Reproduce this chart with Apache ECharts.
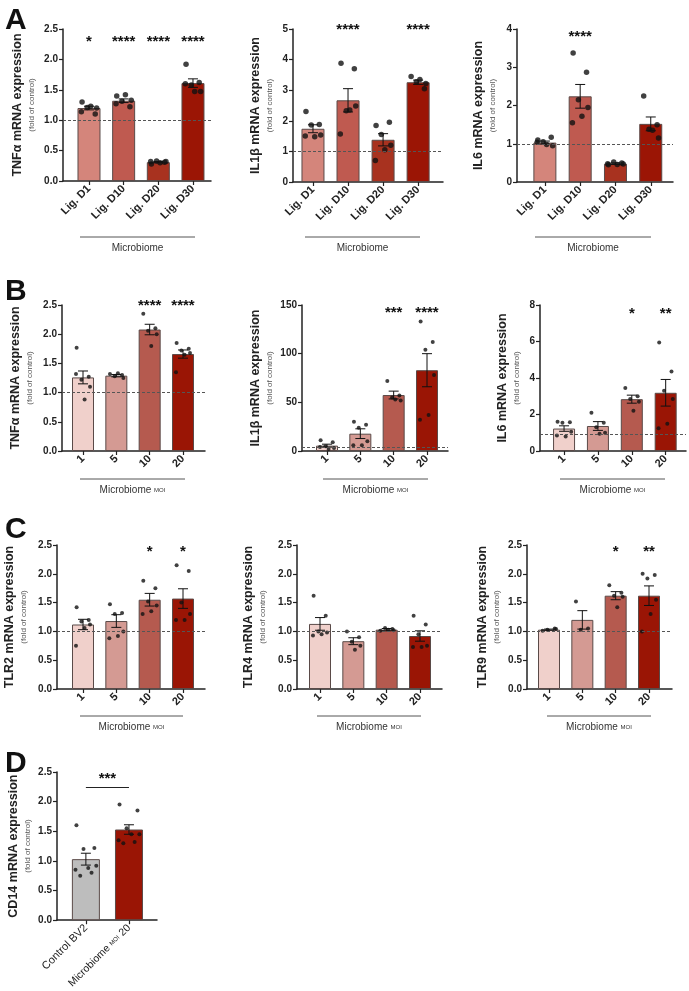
<!DOCTYPE html>
<html>
<head>
<meta charset="utf-8">
<script src="https://cdn.jsdelivr.net/npm/echarts@6/dist/echarts.min.js"></script>
<style>
html, body { margin: 0; padding: 0; background: #fff; }
#chart { width: 689px; height: 991px; }
</style>
</head>
<body>
<div id="chart"></div>
<script>
// categories
const ligDays = ['Lig. D1', 'Lig. D10', 'Lig. D20', 'Lig. D30'];
const moiLevels = ['1', '5', '10', '20'];
const cd14Groups = ['Control BV2', 'Microbiome MOI 20'];

// A: ligature days
const tnfLigMean = [1.20, 1.32, 0.31, 1.61];
const tnfLigSem = [0.03, 0.03, 0.01, 0.07];
const tnfLigPts = [[1.30, 1.10, 1.21, 1.20, 1.23, 1.14], [1.40, 1.22, 1.31, 1.33, 1.42, 1.27], [0.28, 0.31, 0.33, 0.32, 0.30, 0.32], [1.92, 1.62, 1.58, 1.47, 1.47, 1.60]];
const tnfLigStars = ['*', '****', '****', '****'];

const il1LigMean = [1.74, 2.67, 1.38, 3.26];
const il1LigSem = [0.13, 0.38, 0.20, 0.07];
const il1LigPts = [[2.30, 1.88, 1.86, 1.54, 1.48, 1.50], [3.88, 3.70, 2.33, 2.48, 2.35, 1.57], [1.85, 1.95, 1.55, 1.20, 1.05, 0.70], [3.45, 3.05, 3.28, 3.22, 3.35]];
const il1LigStars = ['', '****', '', '****'];

const il6LigMean = [1.03, 2.24, 0.48, 1.52];
const il6LigSem = [0.04, 0.31, 0.02, 0.18];
const il6LigPts = [[1.10, 1.17, 1.05, 0.95, 0.98, 1.04], [3.37, 2.87, 2.15, 1.95, 1.72, 1.55], [0.45, 0.50, 0.52, 0.47, 0.46, 0.48], [2.25, 1.50, 1.38, 1.15, 1.35]];
const il6LigStars = ['', '****', '', ''];

// B: MOI
const tnfMoiMean = [1.26, 1.29, 2.08, 1.66];
const tnfMoiSem = [0.11, 0.02, 0.09, 0.07];
const tnfMoiPts = [[1.77, 1.27, 1.22, 1.10, 0.88, 1.32], [1.32, 1.30, 1.28, 1.25, 1.33], [2.35, 2.10, 2.06, 2.00, 1.80], [1.85, 1.75, 1.72, 1.68, 1.65, 1.35]];
const tnfMoiStars = ['', '', '****', '****'];

const il1MoiMean = [5.5, 17.8, 57.5, 83];
const il1MoiSem = [1.5, 5, 4, 17];
const il1MoiPts = [[11, 9, 5, 3, 2, 4], [30, 27, 24, 10, 6, 6], [72, 57, 55, 52, 53], [133, 112, 104, 78, 37, 32]];
const il1MoiStars = ['', '', '***', '****'];

const il6MoiMean = [1.23, 1.37, 2.84, 3.19];
const il6MoiSem = [0.15, 0.24, 0.22, 0.73];
const il6MoiPts = [[1.60, 1.58, 1.55, 1.05, 0.80, 0.85], [2.10, 1.55, 1.30, 1.00, 0.95], [3.45, 3.00, 2.85, 2.70, 2.20], [5.95, 4.35, 3.30, 2.85, 1.50, 1.25]];
const il6MoiStars = ['', '', '*', '**'];

// C: TLRs
const tlr2Mean = [1.12, 1.18, 1.55, 1.57];
const tlr2Sem = [0.09, 0.11, 0.11, 0.17];
const tlr2Pts = [[1.42, 1.20, 1.17, 1.12, 1.06, 0.75], [1.47, 1.32, 1.30, 1.00, 0.92, 0.88], [1.88, 1.75, 1.52, 1.45, 1.35, 1.30], [2.15, 2.05, 1.50, 1.30, 1.20, 1.20]];
const tlr2Stars = ['', '', '*', '*'];

const tlr4Mean = [1.13, 0.83, 1.03, 0.92];
const tlr4Sem = [0.11, 0.06, 0.02, 0.09];
const tlr4Pts = [[1.62, 1.27, 1.00, 0.98, 0.95, 0.93], [1.00, 0.90, 0.82, 0.75, 0.68], [1.01, 1.04, 1.06, 1.02, 1.03], [1.27, 1.12, 0.95, 0.75, 0.73, 0.73]];
const tlr4Stars = ['', '', '', ''];

const tlr9Mean = [1.03, 1.20, 1.62, 1.62];
const tlr9Sem = [0.01, 0.16, 0.07, 0.17];
const tlr9Pts = [[1.01, 1.05, 1.03, 1.04], [1.52, 1.05, 1.03], [1.80, 1.67, 1.62, 1.60, 1.42], [2.00, 1.98, 1.92, 1.55, 1.30, 1.00]];
const tlr9Stars = ['', '', '*', '**'];

// D: CD14
const cd14Mean = [1.03, 1.53];
const cd14Sem = [0.10, 0.08];
const cd14Pts = [[1.60, 1.22, 1.20, 0.92, 0.88, 0.85, 0.80, 0.75], [1.95, 1.85, 1.55, 1.45, 1.45, 1.35, 1.32, 1.30]];
const cd14Sig = '***';

const ligColors = ['#d4857b', '#bf5a50', '#a8321f', '#9b1505'];
const moiColors = ['#f0d0cb', '#d49a93', '#b55a4f', '#9a1505'];
const cd14Colors = ['#bdbdbd', '#9a1505'];

const FONT = 'Liberation Sans, Arial, sans-serif';
const jitter = [-0.2, 0.18, -0.05, 0.22, 0.05, -0.22, 0.12, -0.12];

const panels = [
  { title: 'TNFα', cats: ligDays, mean: tnfLigMean, sem: tnfLigSem, pts: tnfLigPts, stars: tnfLigStars, starY: 2.35, colors: ligColors,
    y: [0, 2.5, 0.5, 1], ref: 1, grid: { left: 63, top: 29, width: 148, height: 152 }, x: [-0.75, 3.52], barW: 23, dot: 5.5, gap: 26 },
  { title: 'IL1β', cats: ligDays, mean: il1LigMean, sem: il1LigSem, pts: il1LigPts, stars: il1LigStars, starY: 5.1, colors: ligColors,
    y: [0, 5, 1, 0], ref: 1, grid: { left: 293, top: 29, width: 150, height: 153 }, x: [-0.57, 3.71], barW: 23, dot: 5.5, gap: 18 },
  { title: 'IL6', cats: ligDays, mean: il6LigMean, sem: il6LigSem, pts: il6LigPts, stars: il6LigStars, starY: 3.9, colors: ligColors,
    y: [0, 4, 1, 0], ref: 1, grid: { left: 517, top: 29, width: 156, height: 153 }, x: [-0.79, 3.63], barW: 23, dot: 5.5, gap: 19 },
  { title: 'TNFα', cats: moiLevels, mean: tnfMoiMean, sem: tnfMoiSem, pts: tnfMoiPts, stars: tnfMoiStars, starY: 2.55, colors: moiColors,
    y: [0, 2.5, 0.5, 1], ref: 1, grid: { left: 62, top: 305, width: 143, height: 146 }, x: [-0.63, 3.66], barW: 22, dot: 4, gap: 27 },
  { title: 'IL1β', cats: moiLevels, mean: il1MoiMean, sem: il1MoiSem, pts: il1MoiPts, stars: il1MoiStars, starY: 146, colors: moiColors,
    y: [0, 150, 50, 0], ref: 4, grid: { left: 302, top: 305, width: 146, height: 146 }, x: [-0.75, 3.63], barW: 22, dot: 4, gap: 27 },
  { title: 'IL6', cats: moiLevels, mean: il6MoiMean, sem: il6MoiSem, pts: il6MoiPts, stars: il6MoiStars, starY: 7.76, colors: moiColors,
    y: [0, 8, 2, 0], ref: 0.9, grid: { left: 540, top: 305, width: 146, height: 146 }, x: [-0.71, 3.6], barW: 22, dot: 4, gap: 18 },
  { title: 'TLR2', cats: moiLevels, mean: tlr2Mean, sem: tlr2Sem, pts: tlr2Pts, stars: tlr2Stars, starY: 2.45, colors: moiColors,
    y: [0, 2.5, 0.5, 1], ref: 1, grid: { left: 57, top: 545, width: 148, height: 144 }, x: [-0.78, 3.66], barW: 22, dot: 4, gap: 28 },
  { title: 'TLR4', cats: moiLevels, mean: tlr4Mean, sem: tlr4Sem, pts: tlr4Pts, stars: tlr4Stars, starY: 2.45, colors: moiColors,
    y: [0, 2.5, 0.5, 1], ref: 1, grid: { left: 297, top: 545, width: 145, height: 144 }, x: [-0.69, 3.66], barW: 22, dot: 4, gap: 29 },
  { title: 'TLR9', cats: moiLevels, mean: tlr9Mean, sem: tlr9Sem, pts: tlr9Pts, stars: tlr9Stars, starY: 2.45, colors: moiColors,
    y: [0, 2.5, 0.5, 1], ref: 1, grid: { left: 527, top: 545, width: 145, height: 144 }, x: [-0.66, 3.69], barW: 22, dot: 4, gap: 25 },
  { title: 'CD14', cats: cd14Groups, mean: cd14Mean, sem: cd14Sem, pts: cd14Pts, stars: null, colors: cd14Colors,
    y: [0, 2.5, 0.5, 1], ref: null, grid: { left: 57, top: 772, width: 100, height: 150 }, x: [-0.67, 1.65], barW: 28, dot: 4, gap: 24, sigY: 2.25 }
];

const grids = [], xAxes = [], yAxes = [], series = [];

function errRender(params, api) {
  const x = api.value(0), m = api.value(1), e = api.value(2);
  const top = api.coord([x, m + e]);
  const bot = api.coord([x, m - e]);
  const half = 5;
  const style = { stroke: '#111', lineWidth: 1 };
  return {
    type: 'group',
    children: [
      { type: 'line', shape: { x1: top[0], y1: top[1], x2: bot[0], y2: bot[1] }, style },
      { type: 'line', shape: { x1: top[0] - half, y1: top[1], x2: top[0] + half, y2: top[1] }, style },
      { type: 'line', shape: { x1: bot[0] - half, y1: bot[1], x2: bot[0] + half, y2: bot[1] }, style }
    ]
  };
}

panels.forEach((p, k) => {
  grids.push(Object.assign({ containLabel: false }, p.grid));
  xAxes.push({
    type: 'value', gridIndex: k, min: p.x[0], max: p.x[1],
    splitLine: { show: false },
    axisLine: { onZero: false, lineStyle: { color: '#222', width: 1.5 } },
    axisTick: { length: 4, lineStyle: { color: '#222', width: 1.2 }, customValues: p.cats.map((c, i) => i) },
    axisLabel: {
      customValues: p.cats.map((c, i) => i),
      rotate: 45, margin: 6,
      color: '#222', fontFamily: FONT,
      fontSize: 11, fontWeight: k === 9 ? 'normal' : 'bold',
      formatter: v => {
        const c = p.cats[Math.round(v)];
        if (c === 'Microbiome MOI 20') return '{n|Microbiome }{s|MOI}{n| 20}';
        return c;
      },
      rich: {
        n: { fontSize: 10.5, fontFamily: FONT, color: '#222' },
        s: { fontSize: 6, fontFamily: FONT, color: '#222' }
      }
    }
  });
  yAxes.push({
    type: 'value', gridIndex: k, min: p.y[0], max: p.y[1], interval: p.y[2],
    splitLine: { show: false },
    axisLine: { show: true, onZero: false, lineStyle: { color: '#222', width: 1.5 } },
    axisTick: { show: true, length: 4, lineStyle: { color: '#222', width: 1.2 } },
    axisLabel: {
      margin: 5, color: '#222', fontFamily: FONT, fontSize: 10, fontWeight: 'bold',
      formatter: v => v.toFixed(p.y[3])
    },
    name: '{t|' + p.title + ' mRNA expression}\n{s|(fold of control)}',
    nameLocation: 'middle', nameRotate: 90, nameGap: p.gap,
    nameTextStyle: {
      rich: {
        t: { fontSize: 12.5, fontWeight: 'bold', fontFamily: FONT, color: '#222', lineHeight: 16 },
        s: { fontSize: 8, fontFamily: FONT, color: '#555', lineHeight: 11 }
      }
    }
  });

  const bar = {
    type: 'bar', xAxisIndex: k, yAxisIndex: k, barWidth: p.barW,
    data: p.mean.map((m, i) => ({ value: [i, m], itemStyle: { color: p.colors[i] } })),
    itemStyle: { borderColor: '#5a4a48', borderWidth: 1 },
    silent: true, z: 2
  };
  if (p.ref !== null) {
    bar.markLine = {
      symbol: 'none', silent: true, label: { show: false },
      lineStyle: { color: '#555', type: [3, 2], width: 1 },
      data: [{ yAxis: p.ref }]
    };
  }
  if (p.sigY) {
    bar.markLine = {
      symbol: 'none', silent: true,
      lineStyle: { color: '#222', type: 'solid', width: 1 },
      label: { show: true, position: 'middle', formatter: cd14Sig, fontSize: 15, fontWeight: 'bold', color: '#111', distance: 0 },
      data: [[{ coord: [0, p.sigY] }, { coord: [1, p.sigY] }]]
    };
  }
  series.push(bar);

  series.push({
    type: 'custom', xAxisIndex: k, yAxisIndex: k, renderItem: errRender,
    encode: { x: 0, y: 1 }, silent: true, z: 3, clip: false,
    data: p.mean.map((m, i) => [i, m, p.sem[i]])
  });

  const dots = [];
  p.pts.forEach((arr, i) => {
    arr.forEach((v, j) => {
      const spread = arr.length > 1 ? jitter[j % jitter.length] * (p.barW / 23) : 0;
      dots.push([i + spread * (k === 9 ? 0.9 : 1), v]);
    });
  });
  series.push({
    type: 'scatter', xAxisIndex: k, yAxisIndex: k, data: dots,
    symbolSize: p.dot, itemStyle: { color: '#111' }, silent: true, z: 4
  });

  if (p.stars) {
    const st = p.stars;
    series.push({
      type: 'custom', xAxisIndex: k, yAxisIndex: k, silent: true, z: 5, clip: false,
      encode: { x: 0, y: 1 },
      data: st.map((s, i) => [i, p.starY]),
      renderItem: (params, api) => {
        const pt = api.coord([api.value(0), api.value(1)]);
        return {
          type: 'text', x: pt[0], y: pt[1] + 4,
          style: { text: st[params.dataIndex], fill: '#111', font: 'bold 15px ' + FONT, align: 'center', verticalAlign: 'middle' }
        };
      }
    });
  }
});

// panel letters and group captions
const graphics = [];
[['A', 6], ['B', 277], ['C', 515], ['D', 749]].forEach(([t, y]) => {
  graphics.push({ type: 'text', left: 5, top: y, style: { text: t, font: 'bold 30px ' + FONT, fill: '#111' } });
});
const captions = [
  { x1: 80, x2: 195, y: 237, label: 'Microbiome' },
  { x1: 305, x2: 420, y: 237, label: 'Microbiome' },
  { x1: 535, x2: 651, y: 237, label: 'Microbiome' },
  { x1: 80, x2: 185, y: 479, label: 'MOI' },
  { x1: 323, x2: 428, y: 479, label: 'MOI' },
  { x1: 560, x2: 665, y: 479, label: 'MOI' },
  { x1: 80, x2: 183, y: 716, label: 'MOI' },
  { x1: 317, x2: 421, y: 716, label: 'MOI' },
  { x1: 547, x2: 651, y: 716, label: 'MOI' }
];
captions.forEach(c => {
  graphics.push({ type: 'line', shape: { x1: c.x1, y1: c.y, x2: c.x2, y2: c.y }, style: { stroke: '#555', lineWidth: 1 } });
  graphics.push({
    type: 'text', x: (c.x1 + c.x2) / 2, y: c.y + 11,
    style: {
      text: c.label === 'MOI' ? '{a|Microbiome }{b|MOI}' : '{a|Microbiome}',
      align: 'center', verticalAlign: 'middle',
      rich: {
        a: { font: '10px ' + FONT, fill: '#333' },
        b: { font: '6px ' + FONT, fill: '#333' }
      }
    }
  });
});

const chart = echarts.init(document.getElementById('chart'), null, { renderer: 'canvas' });
chart.setOption({
  animation: false,
  backgroundColor: '#fff',
  grid: grids,
  xAxis: xAxes,
  yAxis: yAxes,
  series: series,
  graphic: graphics
});
</script>
</body>
</html>
